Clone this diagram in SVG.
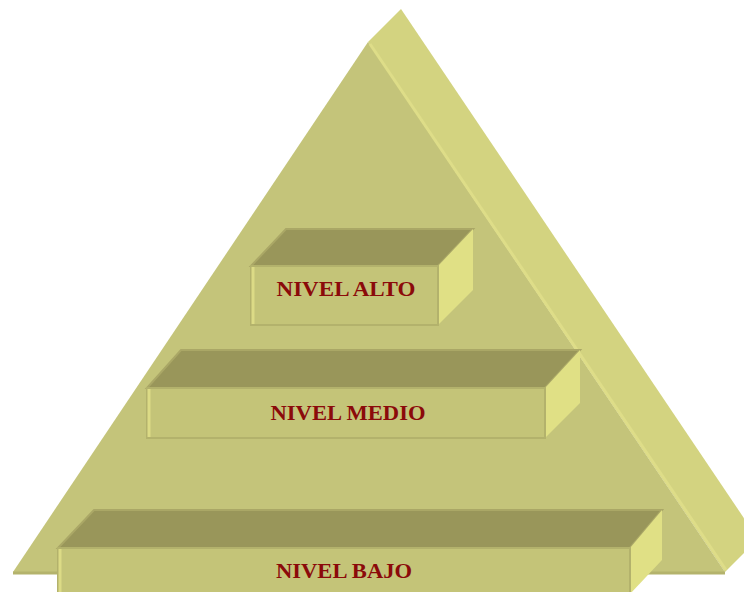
<svg xmlns="http://www.w3.org/2000/svg" width="744" height="592" viewBox="0 0 744 592">
<style>
.front{fill:#c4c47a}
.side{fill:#d3d380}
.top{fill:#99965a;stroke:#aaa766;stroke-width:2}
.rface{fill:#e0e085}
.bface{fill:#c4c478;stroke:#b3b26c;stroke-width:2}
.hl{stroke:#dedd88;stroke-width:3;fill:none}
.lbl{font-family:"Liberation Serif","Times New Roman",serif;font-weight:bold;font-size:21px;fill:#8b0a0a;text-anchor:middle}
</style>
<rect width="744" height="592" fill="#ffffff"/>
<g id="pyramid">
<polygon class="side" points="368,42 401,9 758,539 725,572"/>
<polygon class="front" points="368,42 725,572 13,572"/>
<line x1="13" y1="573" x2="725" y2="573" stroke="#b4b36c" stroke-width="3"/>
<line class="hl" x1="370" y1="44" x2="726" y2="570"/>
</g>
<g id="nivel-alto">
<polygon class="top" points="251,266 286,229 473,229 438,266"/>
<polygon class="rface" points="438,266 473,229 473,290 438,325"/>
<rect class="bface" x="251" y="266" width="187" height="59"/>
<line x1="253" y1="267" x2="253" y2="324" stroke="#dcdb86" stroke-width="3"/>
<text class="lbl" x="346" y="296" textLength="139" lengthAdjust="spacingAndGlyphs">NIVEL ALTO</text>
</g>
<g id="nivel-medio">
<polygon class="top" points="147,388 181,350 580,350 545,388"/>
<polygon class="rface" points="545,388 580,350 580,403 545,438"/>
<rect class="bface" x="147" y="388" width="398" height="50"/>
<line x1="149" y1="389" x2="149" y2="437" stroke="#dcdb86" stroke-width="3"/>
<text class="lbl" x="348" y="420" textLength="155" lengthAdjust="spacingAndGlyphs">NIVEL MEDIO</text>
</g>
<g id="nivel-bajo">
<polygon class="top" points="58,548 94,510 662,510 630,548"/>
<polygon class="rface" points="630,548 662,510 662,560 630,594"/>
<rect class="bface" x="58" y="548" width="572" height="50"/>
<line x1="60" y1="549" x2="60" y2="592" stroke="#dcdb86" stroke-width="3"/>
<text class="lbl" x="344" y="578" textLength="136" lengthAdjust="spacingAndGlyphs">NIVEL BAJO</text>
</g>
<g id="connectors"/>
</svg>
